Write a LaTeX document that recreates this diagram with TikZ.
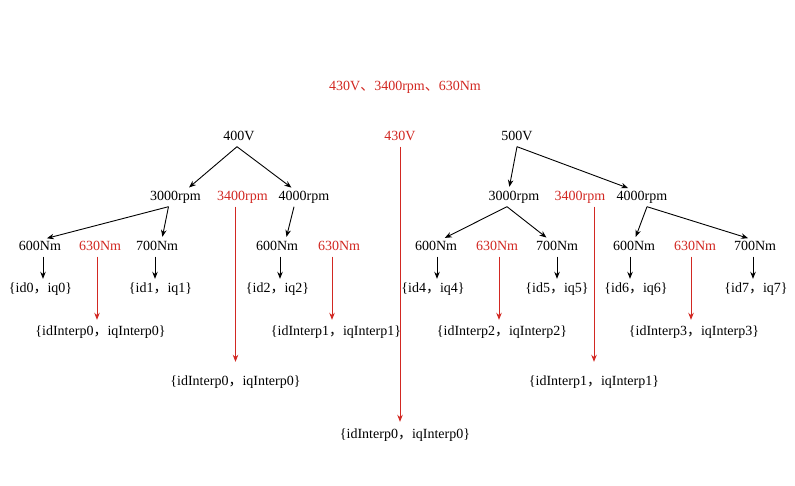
\documentclass[tikz,border=0pt]{standalone}
\usepackage{fontspec}
\setmainfont{Liberation Serif}
\newfontfamily\cjk{Noto Sans CJK SC}
\usetikzlibrary{arrows.meta}
\definecolor{myred}{RGB}{210,40,34}
\newcommand{\fwc}{{\cjk ，}}
\newcommand{\fwd}{{\cjk 、}}
\begin{document}
\begin{tikzpicture}[x=1pt,y=-1pt,
  lbl/.style={anchor=base,inner sep=2pt,text height=10pt,text depth=3.5pt,font=\fontsize{14}{16}\selectfont},
  hl/.style={lbl,text=myred},
  arr/.style={-{Stealth[length=7pt,width=5.5pt]},line width=0.9pt,shorten >=2pt,draw=black},
  rarr/.style={arr,draw=myred}]
\path[fill=white,use as bounding box] (0,0) rectangle (795,486);

% title
\node[hl] (title) at (405,91) {430V\fwd 3400rpm\fwd 630Nm};

% level 1
\node[lbl] (v400) at (239,141) {400V};
\node[hl]  (v430) at (400,141) {430V};
\node[lbl] (v500) at (517,141) {500V};

% level 2
\node[lbl] (a3000) at (175.5,201) {3000rpm};
\node[hl]  (a3400) at (242.5,201) {3400rpm};
\node[lbl] (a4000) at (304,201) {4000rpm};
\node[lbl] (b3000) at (514,201) {3000rpm};
\node[hl]  (b3400) at (580,201) {3400rpm};
\node[lbl] (b4000) at (642,201) {4000rpm};

% level 3
\node[lbl] (a600) at (40,251) {600Nm};
\node[hl]  (a630) at (100,251) {630Nm};
\node[lbl] (a700) at (157,251) {700Nm};
\node[lbl] (c600) at (277,251) {600Nm};
\node[hl]  (c630) at (339,251) {630Nm};
\node[lbl] (b600) at (436,251) {600Nm};
\node[hl]  (b630) at (497,251) {630Nm};
\node[lbl] (b700) at (557,251) {700Nm};
\node[lbl] (d600) at (634,251) {600Nm};
\node[hl]  (d630) at (695,251) {630Nm};
\node[lbl] (d700) at (755,251) {700Nm};

% level 4
\node[lbl] (id0) at (40.5,293) {\{id0\fwc iq0\}};
\node[lbl] (id1) at (160.5,293) {\{id1\fwc iq1\}};
\node[lbl] (id2) at (277.5,293) {\{id2\fwc iq2\}};
\node[lbl] (id4) at (433,293) {\{id4\fwc iq4\}};
\node[lbl] (id5) at (557,293) {\{id5\fwc iq5\}};
\node[lbl] (id6) at (636,293) {\{id6\fwc iq6\}};
\node[lbl] (id7) at (756,293) {\{id7\fwc iq7\}};

% level 5
\node[lbl] (ia0) at (100.5,335) {\{idInterp0\fwc iqInterp0\}};
\node[lbl] (ia1) at (336,335) {\{idInterp1\fwc iqInterp1\}};
\node[lbl] (ia2) at (502,335) {\{idInterp2\fwc iqInterp2\}};
\node[lbl] (ia3) at (694,335) {\{idInterp3\fwc iqInterp3\}};

% level 6
\node[lbl] (ib0) at (235.5,385) {\{idInterp0\fwc iqInterp0\}};
\node[lbl] (ib1) at (594,385) {\{idInterp1\fwc iqInterp1\}};

% level 7
\node[lbl] (ic0) at (405,438) {\{idInterp0\fwc iqInterp0\}};

% black arrows, left tree
\draw[arr] ([xshift=-2pt]v400.south) -- ([xshift=12pt]a3000.north);
\draw[arr] ([xshift=-2pt]v400.south) -- ([xshift=-11pt]a4000.north);
\draw[arr] ([xshift=-7pt]a3000.south) -- ([xshift=5pt]a600.north);
\draw[arr] ([xshift=-7pt]a3000.south) -- ([xshift=5pt]a700.north);
\draw[arr] ([xshift=-10pt]a4000.south) -- ([xshift=9pt]c600.north);
\draw[arr] ([xshift=3pt]a600.south) -- ([xshift=3pt]a600.south |- id0.north);
\draw[arr] ([xshift=-2pt]a700.south) -- ([xshift=-2pt]a700.south |- id1.north);
\draw[arr] ([xshift=3pt]c600.south) -- ([xshift=3pt]c600.south |- id2.north);

% black arrows, right tree
\draw[arr] (v500.south) -- ([xshift=-5pt]b3000.north);
\draw[arr] (v500.south) -- ([xshift=-12pt]b4000.north);
\draw[arr] ([xshift=-7pt]b3000.south) -- ([xshift=7pt]b600.north);
\draw[arr] ([xshift=-7pt]b3000.south) -- ([xshift=-9pt]b700.north);
\draw[arr] ([xshift=5pt]b4000.south) -- ([xshift=1pt]d600.north);
\draw[arr] ([xshift=5pt]b4000.south) -- ([xshift=-5pt]d700.north);
\draw[arr] ([xshift=1pt]b600.south) -- ([xshift=1pt]b600.south |- id4.north);
\draw[arr] (b700.south) -- (b700.south |- id5.north);
\draw[arr] ([xshift=-4pt]d600.south) -- ([xshift=-4pt]d600.south |- id6.north);
\draw[arr] ([xshift=-2pt]d700.south) -- ([xshift=-2pt]d700.south |- id7.north);

% red arrows
\draw[rarr,shorten >=3pt] ([xshift=-3pt]a630.south) -- ([xshift=-3pt]a630.south |- ia0.north);
\draw[rarr,shorten >=3pt] ([xshift=-7pt]c630.south) -- ([xshift=-7pt]c630.south |- ia1.north);
\draw[rarr,shorten >=3pt] ([xshift=2pt]b630.south) -- ([xshift=2pt]b630.south |- ia2.north);
\draw[rarr,shorten >=3pt] ([xshift=-4pt]d630.south) -- ([xshift=-4pt]d630.south |- ia3.north);
\draw[rarr,shorten >=11pt] (ib0.north |- a3400.south) -- (ib0.north);
\draw[rarr,shorten >=11pt] (ib1.north |- b3400.south) -- (ib1.north);
\draw[rarr,shorten >=4pt] (v430.south) -- (v430.south |- ic0.north);
\end{tikzpicture}
\end{document}
